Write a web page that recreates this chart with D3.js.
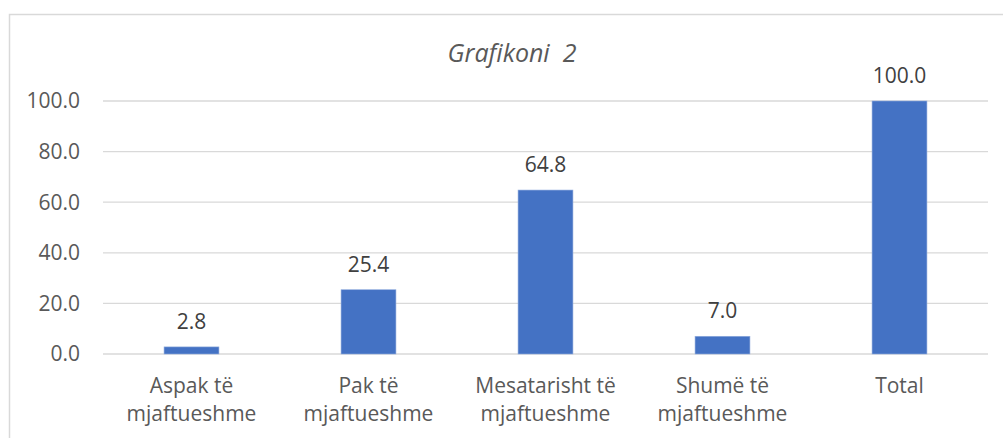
<!DOCTYPE html>
<html>
<head>
<meta charset="utf-8">
<script src="https://cdn.jsdelivr.net/npm/d3@7"></script>
<style>
  body { margin: 0; background: #fff; }
  svg text { font-family: "Open Sans", Lato, sans-serif; }
</style>
</head>
<body>
<div id="place"></div>
<script>
// chart data
const categories = [
  ["Aspak të", "mjaftueshme"],
  ["Pak të", "mjaftueshme"],
  ["Mesatarisht të", "mjaftueshme"],
  ["Shumë të", "mjaftueshme"],
  ["Total"]
];
const values = [2.8, 25.4, 64.8, 7.0, 100.0];
const yTicks = [0, 20, 40, 60, 80, 100];
const title = "Grafikoni  2";

(function() {
  const W = 1003, H = 438;
  const margin = { top: 101, right: 15, bottom: 84, left: 103 };
  const fs = "21px";

  let svg = d3.select("#place").append("svg")
    .attr("width", W)
    .attr("height", H);

  // outer chart border (runs off the right/bottom edge like the source)
  svg.append("rect")
    .attr("x", 9.5).attr("y", 14.5)
    .attr("width", W + 10).attr("height", H + 10)
    .attr("fill", "#fff")
    .attr("stroke", "#d9d9d9")
    .attr("stroke-width", 1.5);

  const x = d3.scaleBand()
    .domain(d3.range(categories.length))
    .range([margin.left, W - margin.right])
    .paddingInner(0.69)
    .paddingOuter(0.345);

  const y = d3.scaleLinear()
    .domain([0, 100])
    .range([H - margin.bottom, margin.top]);

  // gridlines
  svg.append("g")
    .selectAll("line")
    .data(yTicks)
    .enter().append("line")
      .attr("x1", margin.left)
      .attr("x2", W - margin.right)
      .attr("y1", d => y(d))
      .attr("y2", d => y(d))
      .attr("stroke", "#d9d9d9")
      .attr("stroke-width", 1.3);

  // y tick labels
  svg.append("g")
    .selectAll("text")
    .data(yTicks)
    .enter().append("text")
      .attr("x", 80)
      .attr("y", d => y(d))
      .attr("dy", "0.35em")
      .attr("text-anchor", "end")
      .attr("fill", "#595959")
      .style("font-size", fs)
      .text(d => d3.format(".1f")(d));

  // bars
  svg.append("g")
    .selectAll("rect")
    .data(values)
    .enter().append("rect")
      .attr("x", (d, i) => x(i))
      .attr("y", d => y(d))
      .attr("width", x.bandwidth())
      .attr("height", d => y(0) - y(d))
      .attr("fill", "#4472c4")
      .attr("stroke", "#8faadc")
      .attr("stroke-width", 0.6);

  // value labels
  svg.append("g")
    .selectAll("text")
    .data(values)
    .enter().append("text")
      .attr("x", (d, i) => x(i) + x.bandwidth() / 2)
      .attr("y", d => y(d) - 18)
      .attr("text-anchor", "middle")
      .attr("fill", "#404040")
      .style("font-size", fs)
      .text(d => d3.format(".1f")(d));

  // category labels
  let cat = svg.append("g")
    .selectAll("text")
    .data(categories)
    .enter().append("text")
      .attr("x", (d, i) => x(i) + x.bandwidth() / 2)
      .attr("y", 393)
      .attr("text-anchor", "middle")
      .attr("fill", "#595959")
      .style("font-size", fs);
  cat.selectAll("tspan")
    .data((d, i) => d.map(s => ({ s, i })))
    .enter().append("tspan")
      .attr("x", d => x(d.i) + x.bandwidth() / 2)
      .attr("dy", (d, j) => j === 0 ? 0 : 28)
      .text(d => d.s);

  // title
  svg.append("text")
    .attr("x", 512)
    .attr("y", 62)
    .attr("text-anchor", "middle")
    .attr("fill", "#595959")
    .attr("xml:space", "preserve")
    .style("white-space", "pre")
    .style("font-size", "25px")
    .style("font-style", "italic")
    .text(title);
})();
</script>
</body>
</html>
